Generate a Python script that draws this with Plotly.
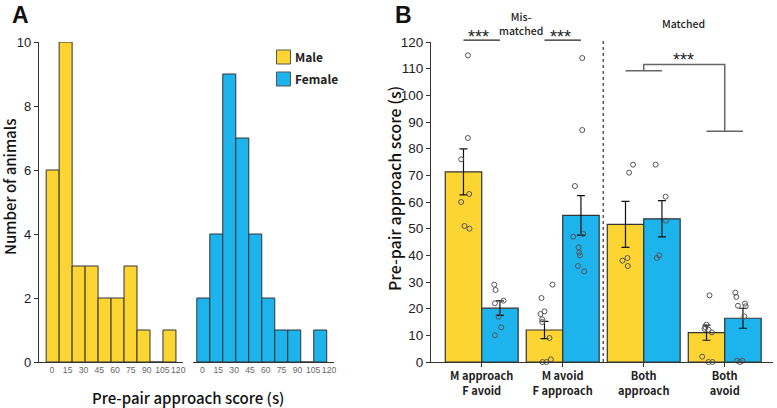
import plotly.graph_objects as go

W, H = 777, 408

# ---------------- data ----------------
# Panel A: histogram counts per bin
hist_tick_labels = [0, 15, 30, 45, 60, 75, 90, 105, 120]
male_counts = [6, 10, 3, 3, 2, 2, 3, 1, 0, 1]
female_counts = [2, 4, 9, 7, 4, 2, 1, 1, 0, 1]
BIN_START = -5.4
BIN_WIDTH = 12.32

# Panel B
categories = ["M approach<br>F avoid", "M avoid<br>F approach", "Both<br>approach", "Both<br>avoid"]
male_mean = [71.3, 12.0, 51.6, 11.0]
male_sem = [8.6, 3.2, 8.6, 2.85]
female_mean = [20.2, 55.0, 53.7, 16.4]
female_sem = [2.75, 7.4, 6.8, 3.75]

male_points = [
    [115, 84, 76, 63, 60, 51, 50],
    [29, 24, 19, 18, 16, 15, 9, 1, 0, 0],
    [74, 71, 39, 38, 36],
    [25, 14, 13, 12.4, 12.1, 11.1, 2, 0, 0],
]
female_points = [
    [29, 27, 23, 22, 17, 13, 10],
    [114, 87, 66, 48, 47, 43, 41, 40, 36, 34],
    [74, 62, 53, 40, 39],
    [26, 24.4, 21.9, 21.1, 20.9, 17.1, 0.5, 0.5, 0],
]
# horizontal jitter of the dots (pixels)
male_jitter = [
    [4.4, 4.4, -2.3, 5.7, -2.3, 1, 6],
    [8, -3, 0, -4, -2.3, -2.3, 5, 6.4, -2, 2],
    [7.6, 3.6, 2, -3, 2.3],
    [3, 0, -1, -2, 2, 5.3, -4.3, 6, 2],
]
female_jitter = [
    [-5.7, -4.4, 3.6, -5, -1.4, 1.3, -5],
    [1.3, 1.3, -6, 2.3, -7.7, -2.3, -1.7, -1, -3, 3.3],
    [-6.3, 3.7, 4, -2.7, -5],
    [-7.6, -6.6, 2, -5, 2.7, 1.4, -6, -0.6, -3],
]

YELLOW = "#FCD533"
BLUE = "#1DB3EC"
EDGE = "#333333"

def px_x(p):
    return p / W

def px_y(p):
    return 1 - p / H

# axis geometry
YDOM = [px_y(362), px_y(42)]
B_XDOM = [px_x(431), px_x(773)]
B_XRANGE = [-0.626, 3.596]
B_YRANGE = [0, 120]

def bx(v):  # panel-B data x -> paper
    return B_XDOM[0] + (v - B_XRANGE[0]) / (B_XRANGE[1] - B_XRANGE[0]) * (B_XDOM[1] - B_XDOM[0])

def by(v):  # panel-B data y -> paper
    return YDOM[0] + (v - B_YRANGE[0]) / (B_YRANGE[1] - B_YRANGE[0]) * (YDOM[1] - YDOM[0])

fig = go.Figure()

# ---------- Panel A ----------
bin_centers = [BIN_START + BIN_WIDTH * (i + 0.5) for i in range(len(male_counts))]
fig.add_trace(go.Bar(x=bin_centers, y=male_counts, width=BIN_WIDTH, name="Male",
                     marker=dict(color=YELLOW, line=dict(color=EDGE, width=1)),
                     xaxis="x", yaxis="y", showlegend=False, hoverinfo="skip"))
fig.add_trace(go.Bar(x=bin_centers, y=female_counts, width=BIN_WIDTH, name="Female",
                     marker=dict(color=BLUE, line=dict(color=EDGE, width=1)),
                     xaxis="x2", yaxis="y2", showlegend=False, hoverinfo="skip"))

# ---------- Panel B ----------
pos = list(range(len(categories)))
fig.add_trace(go.Bar(x=pos, y=male_mean, name="Male", offsetgroup="m",
                     marker=dict(color=YELLOW, line=dict(color=EDGE, width=1.2)),
                     error_y=dict(type="data", array=male_sem, color="#111", thickness=1.2, width=4),
                     xaxis="x3", yaxis="y3", showlegend=False))
fig.add_trace(go.Bar(x=pos, y=female_mean, name="Female", offsetgroup="f",
                     marker=dict(color=BLUE, line=dict(color=EDGE, width=1.2)),
                     error_y=dict(type="data", array=female_sem, color="#111", thickness=1.2, width=4),
                     xaxis="x3", yaxis="y3", showlegend=False))

UNIT_PX = 81.0
HALF = 0.225
for pts_list, jit_list, off in [(male_points, male_jitter, -HALF), (female_points, female_jitter, HALF)]:
    xs, ys = [], []
    for g, (pts, jit) in enumerate(zip(pts_list, jit_list)):
        for v, j in zip(pts, jit):
            xs.append(g + off + j / UNIT_PX)
            ys.append(v)
    fig.add_trace(go.Scatter(x=xs, y=ys, mode="markers",
                             marker=dict(symbol="circle-open", size=5, color="#555",
                                         line=dict(width=1)),
                             xaxis="x3", yaxis="y3", showlegend=False, cliponaxis=False))

shapes = []

def seg(xs, ys, color="#222", width=1.2, dash=None):
    path = "M" + " L".join("%.5f,%.5f" % (bx(a), by(b)) for a, b in zip(xs, ys))
    line = dict(color=color, width=width)
    if dash:
        line["dash"] = dash
    shapes.append(dict(type="path", xref="paper", yref="paper", path=path, line=line))

# significance lines (mismatched)
seg([0 - HALF, 0 + HALF], [120.7, 120.7])
seg([1 - HALF, 1 + HALF], [120.7, 120.7])
# dotted separator
seg([1.5, 1.5], [0, 120.5], color="#333", width=1.2, dash="dot")
# bracket (matched)
seg([2 - HALF, 2 + HALF], [109.2, 109.2], color="#666", width=1.5)
seg([2, 2, 3, 3], [109.2, 111.6, 111.6, 86.5], color="#666", width=1.5)
seg([3 - HALF, 3 + HALF], [86.5, 86.5], color="#666", width=1.5)

TXT = "Noto Sans CJK JP"
ann = []

def btext(x, y, text, size, family=TXT, weight=None):
    f = dict(family=family, size=size, color="#222")
    if weight:
        f["weight"] = weight
    ann.append(dict(x=bx(x), y=by(y), xref="paper", yref="paper", text=text, showarrow=False,
                    font=f, xanchor="center", yanchor="middle", borderpad=0))

btext(-0.04, 122.0, "***", 18, family="Liberation Sans")
btext(0.97, 122.0, "***", 18, family="Liberation Sans")
btext(2.49, 113.3, "***", 18, family="Liberation Sans")
btext(0.48, 127.0, "Mis-<br>matched", 10.5, weight=500)
btext(2.49, 126.9, "Matched", 10.5, weight=500)

# panel letters
ann.append(dict(x=px_x(20), y=px_y(15), xref="paper", yref="paper", text="<b>A</b>", showarrow=False,
                font=dict(family="Liberation Sans", size=23, color="#111"), xanchor="center", yanchor="middle"))
ann.append(dict(x=px_x(403), y=px_y(15), xref="paper", yref="paper", text="<b>B</b>", showarrow=False,
                font=dict(family="Liberation Sans", size=23, color="#111"), xanchor="center", yanchor="middle"))
# axis titles
TITLE_FONT = dict(family=TXT, size=15, color="#111", weight=500)
ann.append(dict(x=px_x(10), y=px_y(187), xref="paper", yref="paper", text="Number of animals",
                textangle=-90, showarrow=False, font=TITLE_FONT,
                xanchor="center", yanchor="middle"))
ann.append(dict(x=px_x(188), y=px_y(397), xref="paper", yref="paper", text="Pre-pair approach score (s)",
                showarrow=False, font=TITLE_FONT,
                xanchor="center", yanchor="middle"))
ann.append(dict(x=px_x(394), y=px_y(189), xref="paper", yref="paper", text="Pre-pair approach score (s)",
                textangle=-90, showarrow=False, font=dict(family=TXT, size=16, color="#111", weight=500),
                xanchor="center", yanchor="middle"))
# legend
for name, color, y0 in [("Male", YELLOW, 50), ("Female", BLUE, 72)]:
    shapes.append(dict(type="rect", xref="paper", yref="paper",
                       x0=px_x(276.5), x1=px_x(290.5), y0=px_y(y0 + 14), y1=px_y(y0),
                       fillcolor=color, line=dict(color="#555", width=1)))
    ann.append(dict(x=px_x(293), y=px_y(y0 + 7), xref="paper", yref="paper", text="<b>%s</b>" % name,
                    showarrow=False, font=dict(family=TXT, size=12, color="#222"),
                    xanchor="left", yanchor="middle"))

axis_line = dict(showline=True, linecolor="#333", linewidth=1.2, showgrid=False, zeroline=False,
                 automargin=False)
HIST_TICKFONT = dict(family="Liberation Sans", size=8.6, color="#666")

fig.update_layout(
    width=W, height=H, margin=dict(l=0, r=0, t=0, b=0, pad=0, autoexpand=False),
    paper_bgcolor="white", plot_bgcolor="white",
    barmode="group", bargap=0.1, bargroupgap=0,
    showlegend=False,
    annotations=ann, shapes=shapes,
    xaxis=dict(domain=[px_x(39), px_x(183)], range=[-12.2, 124.5], tickvals=hist_tick_labels,
               ticks="", tickangle=0, tickfont=HIST_TICKFONT,
               anchor="y", **axis_line),
    yaxis=dict(domain=YDOM, range=[0, 10], tickvals=[0, 2, 4, 6, 8, 10], ticks="outside",
               ticklen=4, tickcolor="#333", tickfont=dict(family="Liberation Sans", size=13, color="#222"),
               anchor="x", **axis_line),
    xaxis2=dict(domain=[px_x(193), px_x(334)], range=[-9.0, 124.7], tickvals=hist_tick_labels,
                ticks="", tickangle=0, tickfont=HIST_TICKFONT,
                anchor="y2", **axis_line),
    yaxis2=dict(domain=YDOM, range=[0, 10], visible=False, anchor="x2", matches="y"),
    xaxis3=dict(domain=B_XDOM, range=B_XRANGE, tickvals=pos,
                ticktext=["<b>%s</b>" % c for c in categories], ticks="outside", ticklen=4,
                tickcolor="#333", tickfont=dict(family=TXT, size=11, color="#222"),
                anchor="y3", **axis_line),
    yaxis3=dict(domain=YDOM, range=B_YRANGE, tickvals=list(range(0, 121, 10)), ticks="outside",
                ticklen=4, tickcolor="#333", tickfont=dict(family="Liberation Sans", size=13.5, color="#222"),
                anchor="x3", **axis_line),
)

# remove the browser's default 8px body margin so the figure fills the window exactly
fig.write_html("out.html", config={"displayModeBar": False},
               post_script="document.body.style.margin='0px';")
